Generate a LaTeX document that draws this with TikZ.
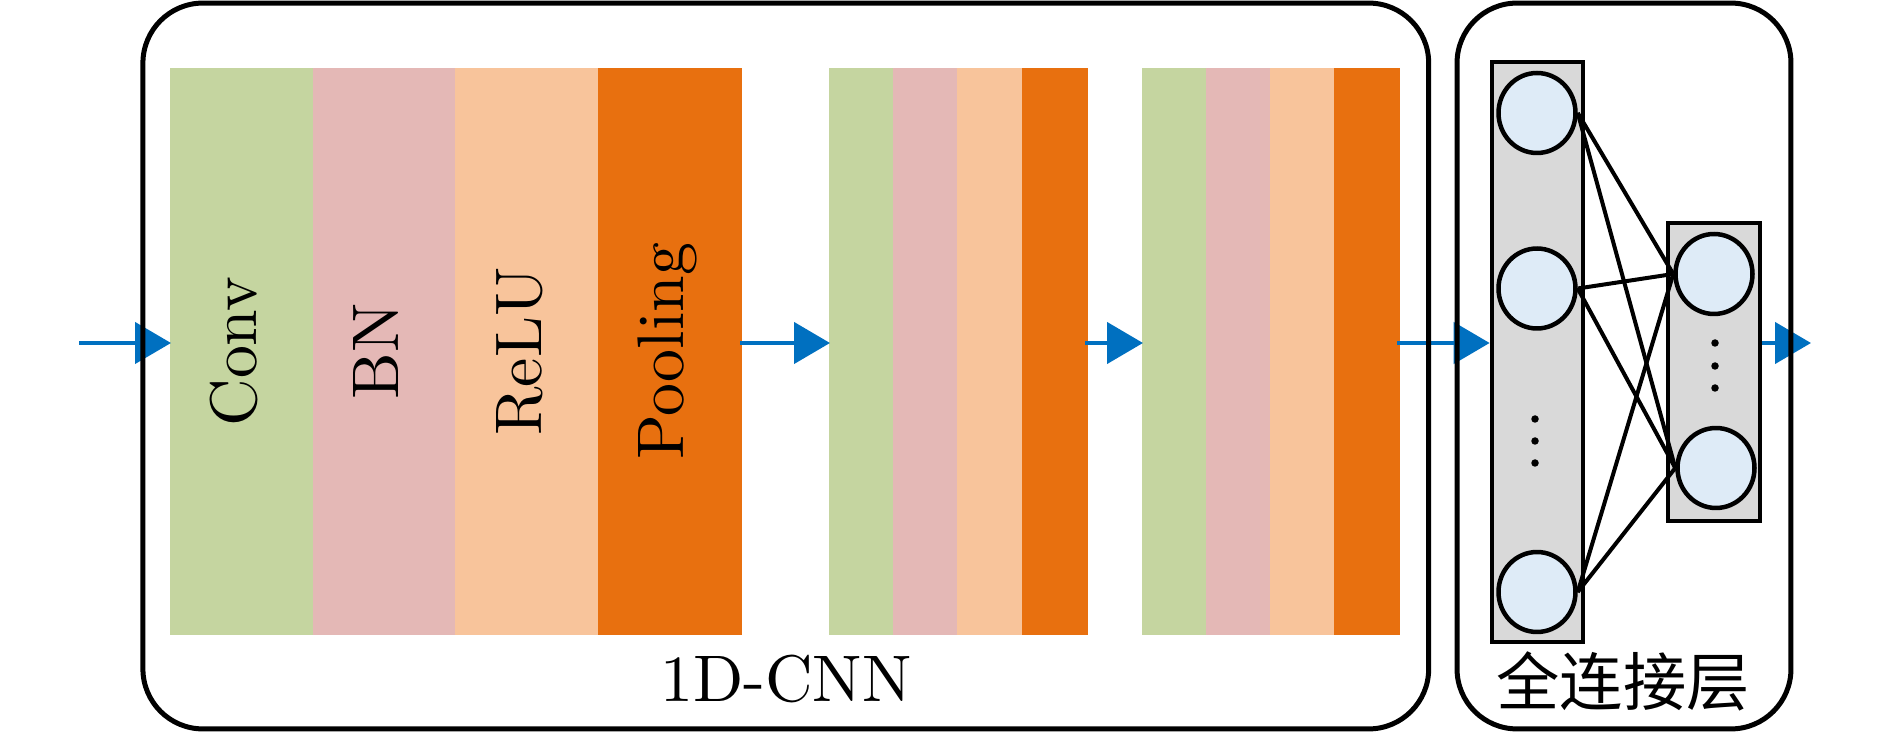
\documentclass[tikz,border=0pt]{standalone}
\usepackage{fontspec}
\newfontfamily\cjk{Noto Sans CJK SC}
\newfontfamily\lmten{lmroman10-regular}[Extension=.otf]
\usetikzlibrary{arrows.meta,shapes.geometric,calc}
\definecolor{cgreen}{HTML}{C5D5A0}
\definecolor{cpink}{HTML}{E4B8B6}
\definecolor{cpeach}{HTML}{F8C49B}
\definecolor{corange}{HTML}{E8700F}
\definecolor{cblue}{HTML}{0070C0}
\definecolor{cgray}{HTML}{D9D9D9}
\definecolor{cneu}{HTML}{DEEBF7}
\begin{document}
\begin{tikzpicture}[x=0.02cm,y=-0.02cm,
  bigfont/.style={font=\lmten\fontsize{37.5}{45}\selectfont},
  panel/.style={rectangle,draw=black,line width=0.1cm,rounded corners=1.2cm,inner sep=0pt,minimum height=14.52cm},
  strip/.style={rectangle,inner sep=0pt,outer sep=0pt,draw=none,minimum height=11.34cm},
  sg/.style={strip,fill=cgreen},
  sp/.style={strip,fill=cpink},
  spe/.style={strip,fill=cpeach},
  so/.style={strip,fill=corange},
  wA/.style={minimum width=2.89cm},
  wB/.style={minimum width=1.325cm},
  wC/.style={minimum width=1.32cm},
  lbl/.style={bigfont,rotate=90,anchor=base,inner sep=0pt},
  arr/.style={draw=cblue,line width=0.09cm,-{Triangle[length=0.72cm,width=0.82cm]}},
  layerbox/.style={rectangle,draw=black,fill=cgray,line width=0.095cm,inner sep=0pt},
  neuron/.style={ellipse,draw=black,fill=cneu,line width=0.09cm,minimum width=1.54cm,minimum height=1.6cm,inner sep=0pt},
  link/.style={draw=black,line width=0.08cm},
  dot/.style={fill=black}]
\useasboundingbox (0,0) rectangle (1890,732);
\fill[white] (0,0) rectangle (1890,732);

% block 1
\node[sg,wA]  (conv1) at (242.25,351.5) {};
\node[sp,wA]  (bn1)   at (384.75,351.5) {};
\node[spe,wA] (relu1) at (527.25,351.5) {};
\node[so,wA]  (pool1) at (669.75,351.5) {};
\node[lbl] (convT) at ($(conv1.center)+(14,0)$) {Conv};
\node[lbl] (bnT)   at ($(bn1.center)+(14,0)$) {BN};
\node[lbl] (reluT) at ($(relu1.center)+(14,0)$) {ReLU};
\node[lbl] (poolT) at ($(pool1.center)+(14,0)$) {Pooling};

% block 2
\node[sg,wB]  (conv2) at (862.1,351.5) {};
\node[sp,wB]  (bn2)   at (926.4,351.5) {};
\node[spe,wB] (relu2) at (990.6,351.5) {};
\node[so,wB]  (pool2) at (1054.9,351.5) {};

% block 3
\node[sg,wC]  (conv3) at (1175,351.5) {};
\node[sp,wC]  (bn3)   at (1239,351.5) {};
\node[spe,wC] (relu3) at (1303,351.5) {};
\node[so,wC]  (pool3) at (1367,351.5) {};

% fully connected layers
\node[layerbox,minimum width=1.82cm,minimum height=11.6cm] (fcA) at (1537.5,352) {};
\node[layerbox,minimum width=1.84cm,minimum height=5.96cm] (fcB) at (1714,372) {};
\node[neuron] (a1) at (1537,113) {};
\node[neuron] (a2) at (1537,288.5) {};
\node[neuron] (a3) at (1537,592) {};
\node[neuron] (b1) at (1714,274) {};
\node[neuron] (b2) at (1716,468) {};
\fill[dot] (1535,419) circle[radius=0.075cm];
\fill[dot] (1535,441) circle[radius=0.075cm];
\fill[dot] (1535,463) circle[radius=0.075cm];
\fill[dot] (1715,343) circle[radius=0.075cm];
\fill[dot] (1715,366) circle[radius=0.075cm];
\fill[dot] (1715,388) circle[radius=0.075cm];
\foreach \s in {a1,a2,a3}{
  \foreach \t in {b1,b2}{
    \draw[link] (\s.east) -- (\t.west);
  }
}

% arrows
\coordinate (in) at (79,343);
\coordinate (out) at (1811,343);
\draw[arr] (in) -- (171,343);
\draw[arr] (740,343) -- (830,343);
\draw[arr] (1085,343) -- (1143,343);
\draw[arr] (1397,343) -- (fcA.west |- in);
\draw[arr] (fcB.east |- in) -- (out);

% panels
\node[panel,minimum width=25.72cm] (cnn) at (785.8,366) {};
\node[panel,minimum width=6.68cm] (fc) at (1624,366) {};
\node[bigfont,anchor=base,inner sep=0pt] (cnnlab) at (786,702) {1D-CNN};
\node[font=\cjk\fontsize{36}{43}\selectfont,inner sep=0pt] (fclab) at (1623,681) {全连接层};
\end{tikzpicture}
\end{document}
